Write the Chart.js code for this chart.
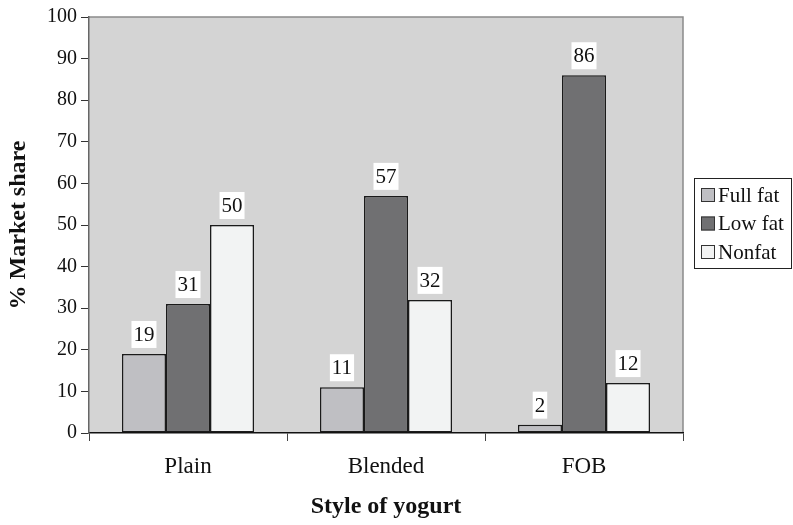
<!DOCTYPE html>
<html>
<head>
<meta charset="utf-8">
<script src="https://cdn.jsdelivr.net/npm/chart.js@4/dist/chart.umd.min.js"></script>
<style>
  body { margin: 0; background: #fff; }
  #wrap { width: 793px; height: 525px; position: relative; }
</style>
</head>
<body>
<div id="wrap"><canvas id="chart"></canvas></div>
<script>
// dados do gráfico
const categorias = ['Plain', 'Blended', 'FOB'];
const fullFat = [19, 11, 2];
const lowFat = [31, 57, 86];
const nonfat = [50, 32, 12];
const nomesSeries = ['Full fat', 'Low fat', 'Nonfat'];
const coresSeries = ['#bfbfc3', '#707072', '#f2f3f3'];

const fonte = '"Liberation Serif", "Times New Roman", serif';

// fundo cinza da área do gráfico + bordas
const fundoPlugin = {
    id: 'fundo',
    beforeDraw(chart) {
        const { ctx, chartArea: a } = chart;
        ctx.save();
        ctx.fillStyle = '#d4d4d4';
        ctx.fillRect(a.left, a.top, a.right - a.left, a.bottom - a.top);
        ctx.strokeStyle = '#8a8a8a';
        ctx.lineWidth = 1.5;
        ctx.beginPath();
        ctx.moveTo(a.left, a.top);
        ctx.lineTo(a.right, a.top);
        ctx.lineTo(a.right, a.bottom);
        ctx.stroke();
        ctx.restore();
    }
};

// rótulos de valor em caixa branca
const rotulosPlugin = {
    id: 'rotulos',
    afterDatasetsDraw(chart) {
        const ctx = chart.ctx;
        ctx.save();
        ctx.font = '21px ' + fonte;
        ctx.textAlign = 'center';
        ctx.textBaseline = 'middle';
        chart.data.datasets.forEach((ds, i) => {
            chart.getDatasetMeta(i).data.forEach((bar, j) => {
                const txt = String(ds.data[j]);
                const w = ctx.measureText(txt).width + 4;
                const h = 27;
                const cy = bar.y - 6 - h / 2;
                ctx.fillStyle = '#fff';
                ctx.fillRect(bar.x - w / 2, cy - h / 2, w, h);
                ctx.fillStyle = '#111';
                ctx.fillText(txt, bar.x, cy + 1);
            });
        });
        ctx.restore();
    }
};

// legenda com moldura
const legendaPlugin = {
    id: 'legenda',
    afterDraw(chart) {
        const ctx = chart.ctx;
        const x = 694, y = 178, w = 97, h = 90;
        ctx.save();
        ctx.fillStyle = '#fff';
        ctx.fillRect(x, y, w, h);
        ctx.strokeStyle = '#222';
        ctx.lineWidth = 1;
        ctx.strokeRect(x + 0.5, y + 0.5, w, h);
        ctx.font = '21px ' + fonte;
        ctx.textBaseline = 'middle';
        chart.data.datasets.forEach((ds, i) => {
            const cy = y + 17 + i * 28.5;
            ctx.fillStyle = ds.backgroundColor;
            ctx.fillRect(x + 7, cy - 7, 14, 14);
            ctx.strokeStyle = '#333';
            ctx.strokeRect(x + 7.5, cy - 6.5, 13, 13);
            ctx.fillStyle = '#111';
            ctx.fillText(ds.label, x + 24, cy + 1);
        });
        ctx.restore();
    }
};

const datasets = [fullFat, lowFat, nonfat].map((dados, i) => ({
    label: nomesSeries[i],
    data: dados,
    backgroundColor: coresSeries[i],
    borderColor: '#1a1a1a',
    borderWidth: 1.5,
    borderSkipped: false,
    categoryPercentage: 0.667,
    barPercentage: 1.0
}));

new Chart(document.getElementById('chart'), {
    type: 'bar',
    data: { labels: categorias, datasets },
    options: {
        responsive: true,
        maintainAspectRatio: false,
        animation: false,
        layout: { padding: { top: 17, right: 110, left: 0, bottom: 0 } },
        plugins: {
            legend: { display: false },
            tooltip: { enabled: false }
        },
        scales: {
            x: {
                afterFit(scale) { scale.height = 92; },
                grid: {
                    offset: true,
                    drawOnChartArea: false,
                    drawTicks: true,
                    tickLength: 8,
                    color: '#444'
                },
                border: { color: '#111', width: 1.5 },
                ticks: { color: '#111', font: { family: fonte, size: 23 }, padding: 12 },
                title: {
                    display: true,
                    text: 'Style of yogurt',
                    color: '#111',
                    font: { family: fonte, size: 24, weight: 'bold' },
                    padding: { top: 0, bottom: 4 }
                }
            },
            y: {
                min: 0,
                max: 100,
                afterFit(scale) { scale.width = 89; },
                grid: {
                    drawOnChartArea: false,
                    drawTicks: true,
                    tickLength: 8,
                    color: '#333'
                },
                border: { color: '#666', width: 1.5 },
                ticks: {
                    stepSize: 10,
                    color: '#111',
                    padding: 4,
                    font: { family: fonte, size: 20 }
                },
                title: {
                    display: true,
                    text: '% Market share',
                    color: '#111',
                    font: { family: fonte, size: 24, weight: 'bold' },
                    padding: { top: 4, bottom: 0 }
                }
            }
        }
    },
    plugins: [fundoPlugin, rotulosPlugin, legendaPlugin]
});
</script>
</body>
</html>
